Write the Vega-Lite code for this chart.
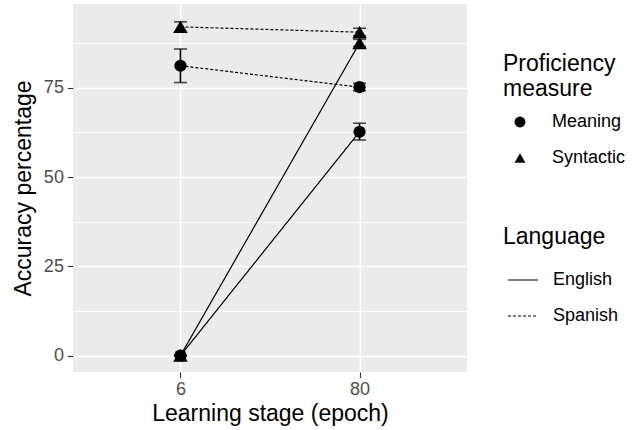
{
  "$schema": "https://vega.github.io/schema/vega-lite/v6.json",
  "autosize": {"type": "none"},
  "width": 394,
  "height": 368,
  "padding": {"left": 73, "top": 4, "right": 174, "bottom": 58},
  "config": {
    "font": "Liberation Sans",
    "view": {"stroke": null, "fill": "#EBEBEB"},
    "axis": {
      "labelFont": "Liberation Sans",
      "titleFont": "Liberation Sans",
      "labelFontSize": 18,
      "labelColor": "#4D4D4D",
      "titleFontSize": 23,
      "titleFontWeight": "normal",
      "titleColor": "#000000",
      "tickColor": "#333333",
      "tickSize": 5.6,
      "tickWidth": 1.1,
      "domain": false,
      "gridColor": "#FFFFFF"
    },
    "legend": {
      "labelFont": "Liberation Sans",
      "titleFont": "Liberation Sans",
      "labelFontSize": 18,
      "titleFontSize": 23,
      "titleFontWeight": "normal",
      "titleColor": "#000000",
      "labelColor": "#000000"
    }
  },
  "data": {
    "values": [
      {"Epoch": "6", "Language": "English", "Measure": "Meaning", "acc": 0, "lo": 0, "hi": 0},
      {"Epoch": "6", "Language": "English", "Measure": "Syntactic", "acc": 0, "lo": 0, "hi": 0},
      {"Epoch": "6", "Language": "Spanish", "Measure": "Meaning", "acc": 81.2, "lo": 76.5, "hi": 85.9},
      {"Epoch": "6", "Language": "Spanish", "Measure": "Syntactic", "acc": 92.1, "lo": 90.8, "hi": 93.5},
      {"Epoch": "80", "Language": "English", "Measure": "Meaning", "acc": 62.7, "lo": 60.4, "hi": 65.1},
      {"Epoch": "80", "Language": "English", "Measure": "Syntactic", "acc": 87.6, "lo": 86.6, "hi": 88.6},
      {"Epoch": "80", "Language": "Spanish", "Measure": "Meaning", "acc": 75.2, "lo": 74.2, "hi": 76.3},
      {"Epoch": "80", "Language": "Spanish", "Measure": "Syntactic", "acc": 90.6, "lo": 89.6, "hi": 91.7}
    ]
  },
  "encoding": {
    "x": {
      "field": "Epoch",
      "type": "ordinal",
      "sort": ["6", "80"],
      "scale": {"type": "point", "padding": 0.6},
      "axis": {
        "title": "Learning stage (epoch)",
        "labelAngle": 0,
        "labelPadding": 3,
        "titlePadding": 4,
        "grid": true,
        "gridWidth": 1.6
      }
    }
  },
  "resolve": {"axis": {"y": "independent"}},
  "layer": [
    {
      "mark": {"type": "line", "color": "#000000", "strokeWidth": 1.2},
      "encoding": {
        "y": {
          "field": "acc",
          "type": "quantitative",
          "scale": {"domain": [-4.6, 98.5], "nice": false, "zero": false},
          "axis": {
            "title": "Accuracy percentage",
            "values": [0, 25, 50, 75],
            "grid": true,
            "gridWidth": 1.6,
            "labelPadding": 4,
            "titlePadding": 8
          }
        },
        "detail": {"field": "Measure"},
        "strokeDash": {
          "field": "Language",
          "type": "nominal",
          "scale": {"domain": ["English", "Spanish"], "range": [[1, 0], [3, 2]]},
          "legend": {
            "title": "Language",
            "orient": "none",
            "legendX": 430,
            "legendY": 222,
            "symbolType": "stroke",
            "symbolSize": 900,
            "symbolStrokeWidth": 1.2,
            "symbolStrokeColor": "#000000",
            "symbolOffset": 4,
            "labelOffset": 14,
            "rowPadding": 11,
            "titlePadding": 15
          }
        }
      }
    },
    {
      "mark": {"type": "rule", "color": "#000000", "strokeWidth": 1.6},
      "encoding": {
        "y": {
          "field": "lo",
          "type": "quantitative",
          "axis": {
            "orient": "right",
            "values": [12.5, 37.5, 62.5, 87.5],
            "grid": true,
            "gridWidth": 0.8,
            "labels": false,
            "ticks": false,
            "domain": false,
            "title": null
          }
        },
        "y2": {"field": "hi"},
        "detail": {"field": "Measure"}
      }
    },
    {
      "mark": {"type": "tick", "color": "#000000", "thickness": 1.6, "size": 13},
      "encoding": {"y": {"field": "lo", "type": "quantitative", "axis": null}}
    },
    {
      "mark": {"type": "tick", "color": "#000000", "thickness": 1.6, "size": 13},
      "encoding": {"y": {"field": "hi", "type": "quantitative", "axis": null}}
    },
    {
      "mark": {"type": "point", "filled": true, "color": "#000000", "opacity": 1},
      "encoding": {
        "y": {"field": "acc", "type": "quantitative", "axis": null},
        "size": {
          "condition": {"test": "datum.Measure === 'Syntactic'", "value": 210},
          "value": 150
        },
        "shape": {
          "field": "Measure",
          "type": "nominal",
          "scale": {"domain": ["Meaning", "Syntactic"], "range": ["circle", "triangle-up"]},
          "legend": {
            "title": ["Proficiency", "measure"],
            "orient": "none",
            "legendX": 430,
            "legendY": 49,
            "symbolSize": 120,
            "symbolFillColor": "#000000",
            "symbolStrokeWidth": 0,
            "symbolOffset": 8,
            "labelOffset": 23,
            "rowPadding": 18,
            "titlePadding": 12
          }
        }
      }
    }
  ]
}
